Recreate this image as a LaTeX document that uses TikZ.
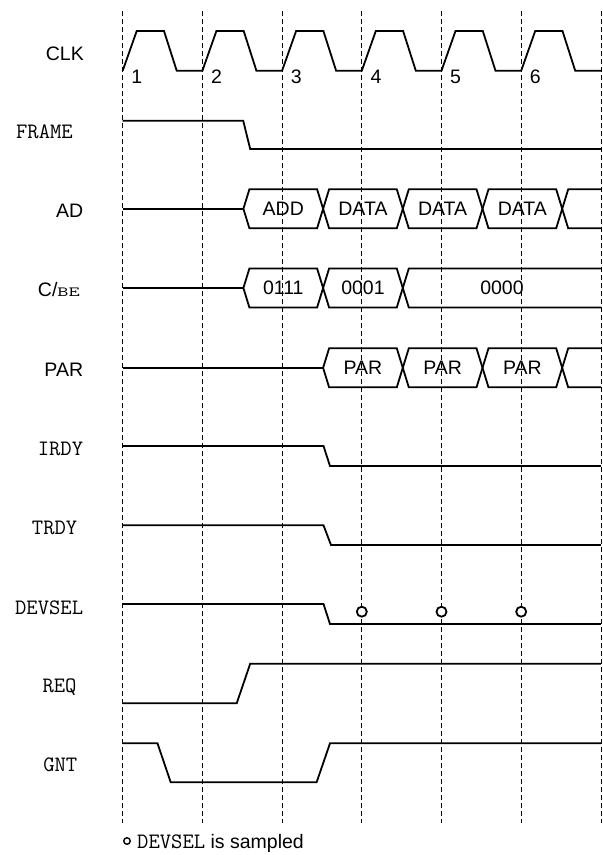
\documentclass[tikz,border=0pt]{standalone}
\usepackage{fontspec}
\setmainfont{Liberation Sans}

\begin{document}
\begin{tikzpicture}[
  x=1pt, y=-1pt,
  font=\fontsize{19.5}{23}\selectfont,
  sig/.style={line width=1.8pt, line join=miter},
  grid/.style={line width=0.8pt, dash pattern=on 5pt off 3pt},
  sname/.style={anchor=base east, inner sep=0pt},
  mname/.style={anchor=base east, inner sep=0pt, font=\ttfamily\fontsize{22}{26}\selectfont},
  buslbl/.style={inner sep=0pt},
  smp/.style={circle, draw, line width=1.8pt, fill=white, inner sep=0pt, minimum size=10pt}
]
\useasboundingbox (0,0) rectangle (603,855);

% Clock edge grid
\foreach \k in {0,...,6}
  \draw[grid] ({122.7+79.7*\k},11) -- ({122.7+79.7*\k},822.7);

% Signal names
\node[sname] (clk)    at (84,60.7)    {CLK};
\node[mname] (frame)  at (73,138.3)   {FRAME};
\node[sname] (ad)     at (83.3,217.7) {AD};
\node[sname] (cbe)    at (80,296.7)   {C/\scalebox{1.55}[1]{\ttfamily\fontsize{14}{16}\selectfont BE}};
\node[sname] (par)    at (83.3,376.7) {PAR};
\node[mname] (irdy)   at (83.3,455.7) {IRDY};
\node[mname] (trdy)   at (77.5,534.3) {TRDY};
\node[mname] (devsel) at (83.3,614)   {DEVSEL};
\node[mname] (req)    at (76.7,692.5) {REQ};
\node[mname] (gnt)    at (77.5,771.7) {GNT};

% Clock with cycle numbers
\draw[sig] (122.7,70.7) \foreach \k in {0,...,5} {
  -- ++(14,-39.7) -- ++(27.3,0) -- ++(12.7,39.7) -- ++(25.7,0) };
\foreach \k [count=\n] in {0,...,5}
  \node[anchor=base west, inner sep=0pt] (cyc\n) at ({122.7+79.7*\k+8.5},83.3) {\n};

% FRAME
\draw[sig] (122.7,120.7) -- (243.2,120.7) -- (250.2,149) -- (600.9,149);

% AD bus
\draw[sig] (122.7,208.8) -- (243.4,208.8);
\foreach \a/\b/\txt [count=\i] in {243.4/323.1/ADD, 323.1/402.8/DATA, 402.8/482.5/DATA, 482.5/562.2/DATA} {
  \draw[sig] (\a,208.8) -- ({\a+6},189.3) -- ({\b-6},189.3) -- (\b,208.8)
    -- ({\b-6},228.3) -- ({\a+6},228.3) -- cycle;
  \node[buslbl] (ad\i) at ({(\a+\b)/2},208.8) {\txt};
}
\draw[sig] (600.9,189.3) -- (568.2,189.3) -- (562.2,208.8) -- (568.2,228.3) -- (600.9,228.3);

% C/BE bus
\draw[sig] (122.7,288) -- (243.4,288);
\foreach \a/\b/\txt [count=\i] in {243.4/323.1/0111, 323.1/402.8/0001} {
  \draw[sig] (\a,288) -- ({\a+6},268.5) -- ({\b-6},268.5) -- (\b,288)
    -- ({\b-6},307.5) -- ({\a+6},307.5) -- cycle;
  \node[buslbl] (cbe\i) at ({(\a+\b)/2},288) {\txt};
}
\draw[sig] (600.9,268.5) -- (408.8,268.5) -- (402.8,288) -- (408.8,307.5) -- (600.9,307.5);
\node[buslbl] (cbe3) at (502,288) {0000};

% PAR bus
\draw[sig] (122.7,367.8) -- (323.1,367.8);
\foreach \a/\b [count=\i] in {323.1/402.8, 402.8/482.5, 482.5/562.2} {
  \draw[sig] (\a,367.8) -- ({\a+6},348.3) -- ({\b-6},348.3) -- (\b,367.8)
    -- ({\b-6},387.3) -- ({\a+6},387.3) -- cycle;
  \node[buslbl] (par\i) at ({(\a+\b)/2},367.8) {PAR};
}
\draw[sig] (600.9,348.3) -- (568.2,348.3) -- (562.2,367.8) -- (568.2,387.3) -- (600.9,387.3);

% IRDY, TRDY, DEVSEL
\draw[sig] (122.7,446) -- (323.5,446) -- (330,466) -- (600.9,466);
\draw[sig] (122.7,525.3) -- (323.5,525.3) -- (331,545) -- (600.9,545);
\draw[sig] (122.7,604) -- (323.5,604) -- (330,624) -- (600.9,624);
\foreach \k in {3,4,5}
  \node[smp] (smp\k) at ({122.7+79.7*\k},611.7) {};

% REQ, GNT
\draw[sig] (122.7,703.3) -- (236.7,703.3) -- (250.2,663.7) -- (600.9,663.7);
\draw[sig] (122.7,743.3) -- (157.5,743.3) -- (170.7,782.3) -- (316.6,782.3)
  -- (330,743.3) -- (600.9,743.3);

% Legend
\node[smp, minimum size=6.5pt, line width=1.4pt] (key) at (127,841) {};
\node[anchor=base west, inner sep=0pt] (keytext) at (137,848.5)
  {{\ttfamily\fontsize{22}{26}\selectfont DEVSEL} is sampled};

\end{tikzpicture}
\end{document}
